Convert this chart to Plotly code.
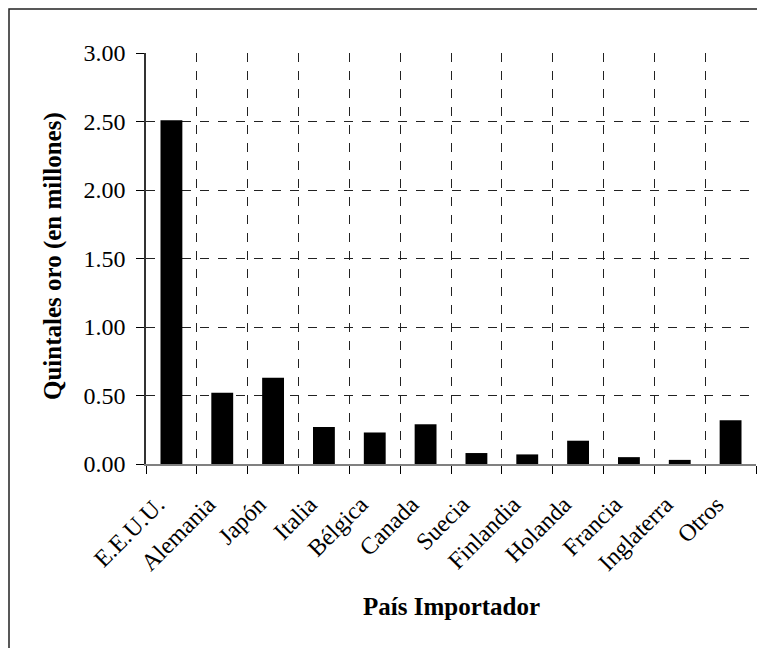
import plotly.graph_objects as go

paises = ["E.E.U.U.", "Alemania", "Japón", "Italia", "Bélgica", "Canada", "Suecia",
          "Finlandia", "Holanda", "Francia", "Inglaterra", "Otros"]
quintales = [2.51, 0.52, 0.63, 0.27, 0.23, 0.29, 0.08, 0.07, 0.17, 0.05, 0.03, 0.32]
y_ticks = [0, 0.5, 1.0, 1.5, 2.0, 2.5, 3.0]

FONT = "Liberation Serif, Times New Roman, serif"

# page body has an 8px margin; figure coordinates = page - 8
W, H = 757, 640
L, R, T, B = 138, 9, 45, 184
PW, PH = W - L - R, H - T - B


def px(xf):
    return (xf - L) / PW


def py(yf):
    return (H - B - yf) / PH


fig = go.Figure(go.Bar(x=paises, y=quintales, width=0.43,
                       marker=dict(color="black", line=dict(color="black", width=0))))

fig.update_layout(
    width=W, height=H,
    margin=dict(l=L, r=R, t=T, b=B),
    paper_bgcolor="white", plot_bgcolor="white",
    font=dict(family=FONT, size=24, color="black"),
    showlegend=False,
)
fig.update_xaxes(
    type="category", tickson="boundaries",
    showgrid=True, gridcolor="#222", griddash="dash", gridwidth=1,
    showline=True, linecolor="#808080", linewidth=2,
    ticks="outside", ticklen=8, tickcolor="black", tickwidth=1,
    tickangle=-45, tickfont=dict(family=FONT, size=24),
    ticklabelstandoff=15, ticklabelshift=-14,
    automargin=False,
)
fig.update_yaxes(
    range=[0, 3], tickvals=y_ticks, tickformat=".2f",
    showgrid=True, gridcolor="#222", griddash="dash", gridwidth=1,
    zeroline=False,
    showline=True, linecolor="#333", linewidth=1.5,
    ticks="outside", ticklen=8, tickcolor="black", tickwidth=1,
    tickfont=dict(family=FONT, size=24),
    ticklabelstandoff=6,
    automargin=False,
)
fig.add_annotation(text="<b>País Importador</b>", xref="paper", yref="paper",
                   x=0.5, y=py(598), showarrow=False,
                   font=dict(family=FONT, size=25), xanchor="center", yanchor="middle")
fig.add_annotation(text="<b>Quintales oro (en millones)</b>", xref="paper", yref="paper",
                   x=px(45), y=py(248), showarrow=False, textangle=-90,
                   font=dict(family=FONT, size=25), xanchor="center", yanchor="middle")
fig.add_shape(type="rect", xref="paper", yref="paper",
              x0=px(1), x1=px(780), y0=py(700), y1=py(1),
              line=dict(color="#222", width=1.5), fillcolor="rgba(0,0,0,0)", layer="below")

fig.write_html("out.html")
